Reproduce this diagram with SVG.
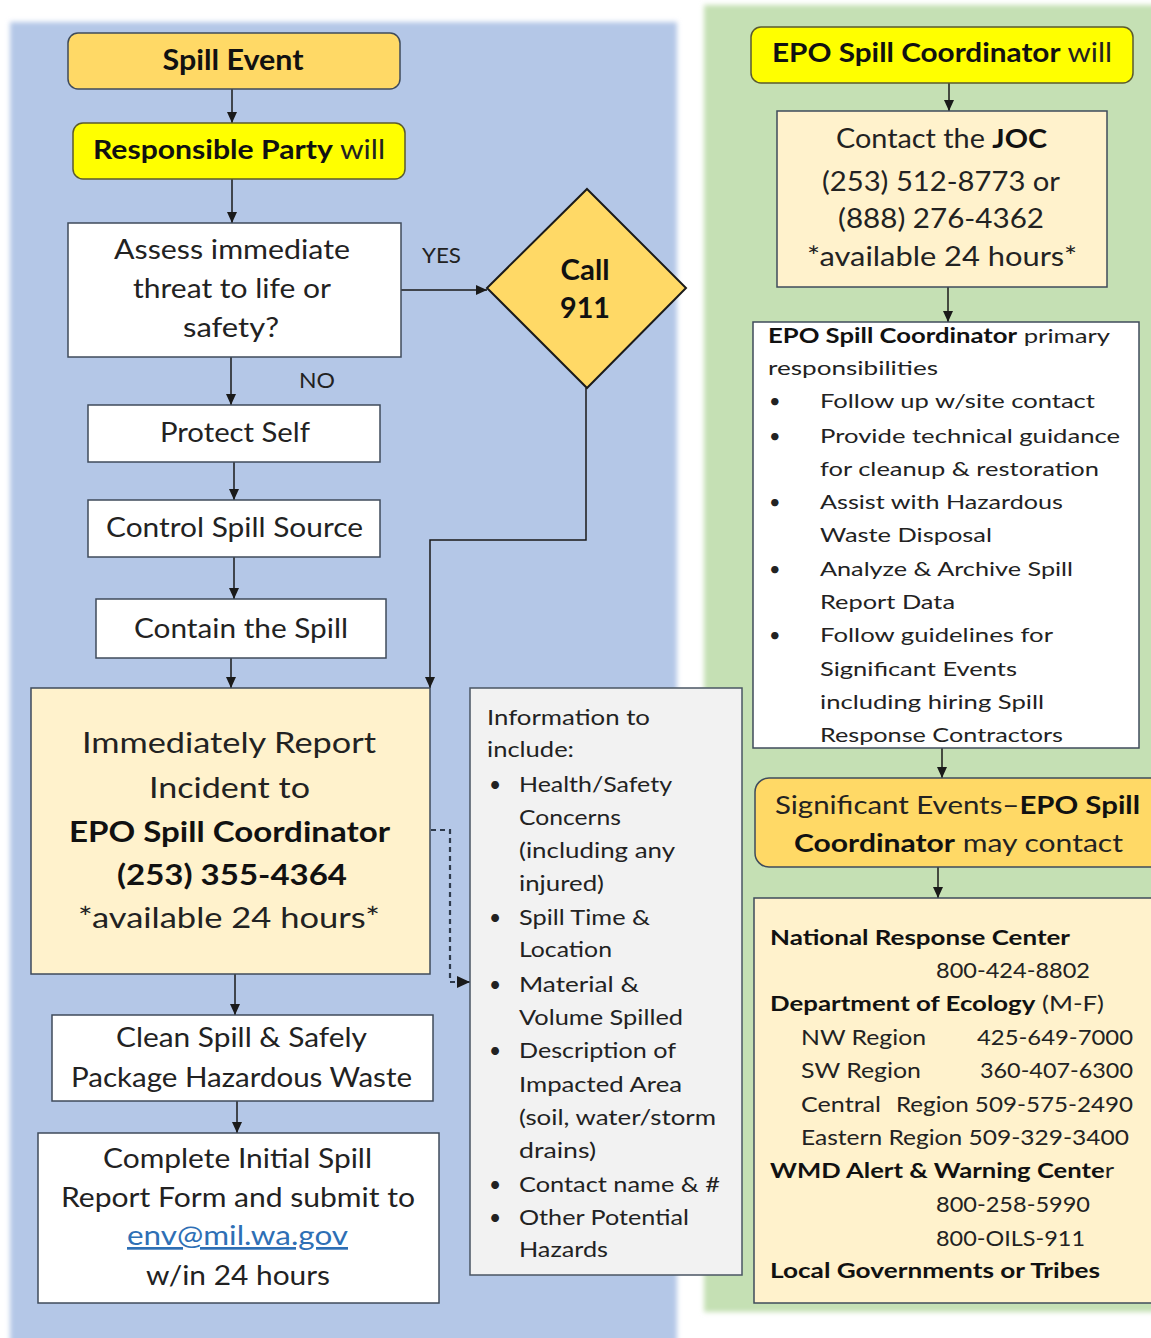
<svg xmlns="http://www.w3.org/2000/svg" width="1151" height="1338" viewBox="0 0 1151 1338">
<defs>
<filter id="soft" x="-5%" y="-5%" width="110%" height="110%"><feGaussianBlur stdDeviation="2.5"/></filter>
<marker id="ah" markerUnits="userSpaceOnUse" markerWidth="11" markerHeight="10" refX="11" refY="5" orient="auto"><path d="M0,0 L11,5 L0,10 z" fill="#1a1a1a"/></marker>
<marker id="ahd" markerUnits="userSpaceOnUse" markerWidth="13" markerHeight="12" refX="13" refY="6" orient="auto"><path d="M0,0 L13,6 L0,12 z" fill="#1a1a1a"/></marker>
</defs>
<style>
text{font-family:Lato,"Liberation Sans",sans-serif;fill:#222;}
.c{text-anchor:middle;}
.b{font-weight:bold;fill:#111;}
.l28{font-size:27px;}
.l29{font-size:29px;}
.l26{font-size:26px;}
.r20{font-size:20px;}
.r21{font-size:21px;}
.box{stroke:#3f4b5b;stroke-width:1.5;}
.conn line,.conn polyline,.conn path{stroke:#1a1a1a;stroke-width:1.5;fill:none;}
</style>

<rect x="10" y="22" width="667" height="1330" fill="#b4c7e7" filter="url(#soft)"/>
<rect x="704" y="5" width="460" height="1307" fill="#c5e0b4" filter="url(#soft)"/>

<g class="conn">
<line x1="232" y1="89" x2="232" y2="123" marker-end="url(#ah)"/>
<line x1="232" y1="179" x2="232" y2="223" marker-end="url(#ah)"/>
<line x1="401" y1="290" x2="487" y2="290" marker-end="url(#ah)"/>
<line x1="231" y1="357" x2="231" y2="405" marker-end="url(#ah)"/>
<line x1="234" y1="462" x2="234" y2="500" marker-end="url(#ah)"/>
<line x1="234" y1="557" x2="234" y2="599" marker-end="url(#ah)"/>
<line x1="231" y1="658" x2="231" y2="688" marker-end="url(#ah)"/>
<polyline points="586,388 586,540 430,540 430,688" marker-end="url(#ah)"/>
<polyline points="431,830 450,830 450,982 470,982" stroke-dasharray="5,4" style="stroke:#2e3a4c;stroke-width:2.2" marker-end="url(#ahd)"/>
<line x1="235" y1="974" x2="235" y2="1015" marker-end="url(#ah)"/>
<line x1="237" y1="1101" x2="237" y2="1133" marker-end="url(#ah)"/>
<line x1="949" y1="83" x2="949" y2="111" marker-end="url(#ah)"/>
<line x1="948" y1="287" x2="948" y2="322" marker-end="url(#ah)"/>
<line x1="942" y1="748" x2="942" y2="778" marker-end="url(#ah)"/>
<line x1="938" y1="867" x2="938" y2="898" marker-end="url(#ah)"/>
</g>

<g id="spill-event">
<rect x="68" y="33" width="332" height="56" rx="10" fill="#ffd966" class="box"/>
<text x="233" y="70" class="c b" font-size="28" textLength="141" lengthAdjust="spacingAndGlyphs">Spill Event</text>
</g>
<g id="responsible-party">
<rect x="73" y="123" width="332" height="56" rx="10" fill="#ffff00" stroke="#5b5b2e" stroke-width="1.5"/>
<text x="239" y="159" class="c l28" textLength="292" lengthAdjust="spacingAndGlyphs"><tspan class="b">Responsible Party</tspan> will</text>
</g>
<g id="assess">
<rect x="68" y="223" width="333" height="134" fill="#ffffff" class="box"/>
<text x="232" y="259" class="c l28" textLength="236" lengthAdjust="spacingAndGlyphs">Assess immediate</text>
<text x="232" y="298" class="c l28" textLength="198" lengthAdjust="spacingAndGlyphs">threat to life or</text>
<text x="231" y="337" class="c l28" textLength="96" lengthAdjust="spacingAndGlyphs">safety?</text>
</g>
<g id="yes-label"><text x="422" y="263" font-size="21" textLength="39" lengthAdjust="spacingAndGlyphs">YES</text></g>
<g id="no-label"><text x="299" y="388" font-size="22" textLength="36" lengthAdjust="spacingAndGlyphs">NO</text></g>
<g id="call-911">
<polygon points="587,189 686,288 587,388 487,288" fill="#ffd966" stroke="#1a1a1a" stroke-width="2"/>
<text x="585" y="280" class="c b" font-size="28" textLength="49" lengthAdjust="spacingAndGlyphs">Call</text>
<text x="585" y="318" class="c b" font-size="28" textLength="50" lengthAdjust="spacingAndGlyphs">911</text>
</g>
<g id="protect-self">
<rect x="88" y="405" width="292" height="57" fill="#ffffff" class="box"/>
<text x="235" y="442" class="c l28" textLength="150" lengthAdjust="spacingAndGlyphs">Protect Self</text>
</g>
<g id="control-source">
<rect x="88" y="500" width="292" height="57" fill="#ffffff" class="box"/>
<text x="234.5" y="537" class="c l28" textLength="257" lengthAdjust="spacingAndGlyphs">Control Spill Source</text>
</g>
<g id="contain">
<rect x="96" y="599" width="290" height="59" fill="#ffffff" class="box"/>
<text x="241" y="638" class="c l28" textLength="214" lengthAdjust="spacingAndGlyphs">Contain the Spill</text>
</g>
<g id="report">
<rect x="31" y="688" width="399" height="286" fill="#fff2cc" class="box"/>
<text x="229" y="753" class="c l29" textLength="294" lengthAdjust="spacingAndGlyphs">Immediately Report</text>
<text x="229.5" y="798" class="c l29" textLength="161" lengthAdjust="spacingAndGlyphs">Incident to</text>
<text x="229.5" y="842" class="c b l29" textLength="321" lengthAdjust="spacingAndGlyphs">EPO Spill Coordinator</text>
<text x="232" y="885" class="c b l29" textLength="230" lengthAdjust="spacingAndGlyphs">(253) 355-4364</text>
<text x="229" y="928" class="c l29" textLength="302" lengthAdjust="spacingAndGlyphs">*available 24 hours*</text>
</g>
<g id="info">
<rect x="470" y="688" width="272" height="587" fill="#f2f2f2" stroke="#4a5563" stroke-width="1.5"/>
<text x="487" y="725" class="r21" textLength="163" lengthAdjust="spacingAndGlyphs">Information to</text>
<text x="487" y="757" class="r21" textLength="87" lengthAdjust="spacingAndGlyphs">include:</text>
<g class="r21">
<text x="489" y="792">•</text><text x="489" y="925">•</text><text x="489" y="992">•</text><text x="489" y="1058">•</text><text x="489" y="1192">•</text><text x="489" y="1225">•</text>
</g>
<text x="519" y="792" class="r21" textLength="153" lengthAdjust="spacingAndGlyphs">Health/Safety</text>
<text x="519" y="825" class="r21" textLength="102" lengthAdjust="spacingAndGlyphs">Concerns</text>
<text x="519" y="858" class="r21" textLength="156" lengthAdjust="spacingAndGlyphs">(including any</text>
<text x="519" y="891" class="r21" textLength="85" lengthAdjust="spacingAndGlyphs">injured)</text>
<text x="519" y="925" class="r21" textLength="131" lengthAdjust="spacingAndGlyphs">Spill Time &amp;</text>
<text x="519" y="957" class="r21" textLength="93" lengthAdjust="spacingAndGlyphs">Location</text>
<text x="519" y="992" class="r21" textLength="120" lengthAdjust="spacingAndGlyphs">Material &amp;</text>
<text x="519" y="1025" class="r21" textLength="164" lengthAdjust="spacingAndGlyphs">Volume Spilled</text>
<text x="519" y="1058" class="r21" textLength="157" lengthAdjust="spacingAndGlyphs">Description of</text>
<text x="519" y="1092" class="r21" textLength="163" lengthAdjust="spacingAndGlyphs">Impacted Area</text>
<text x="519" y="1125" class="r21" textLength="197" lengthAdjust="spacingAndGlyphs">(soil, water/storm</text>
<text x="519" y="1158" class="r21" textLength="77" lengthAdjust="spacingAndGlyphs">drains)</text>
<text x="519" y="1192" class="r21" textLength="201" lengthAdjust="spacingAndGlyphs">Contact name &amp; #</text>
<text x="519" y="1225" class="r21" textLength="170" lengthAdjust="spacingAndGlyphs">Other Potential</text>
<text x="519" y="1257" class="r21" textLength="89" lengthAdjust="spacingAndGlyphs">Hazards</text>
</g>
<g id="clean">
<rect x="52" y="1015" width="381" height="86" fill="#ffffff" class="box"/>
<text x="241.5" y="1047" class="c l28" textLength="251" lengthAdjust="spacingAndGlyphs">Clean Spill &amp; Safely</text>
<text x="241.5" y="1087" class="c l28" textLength="341" lengthAdjust="spacingAndGlyphs">Package Hazardous Waste</text>
</g>
<g id="complete">
<rect x="38" y="1133" width="401" height="170" fill="#ffffff" class="box"/>
<text x="237.5" y="1168" class="c l28" textLength="269" lengthAdjust="spacingAndGlyphs">Complete Initial Spill</text>
<text x="238" y="1207" class="c l28" textLength="354" lengthAdjust="spacingAndGlyphs">Report Form and submit to</text>
<text x="237.5" y="1245" class="c l28" textLength="221" lengthAdjust="spacingAndGlyphs" style="fill:#2e6fb5" text-decoration="underline">env@mil.wa.gov</text>
<text x="238" y="1285" class="c l28" textLength="184" lengthAdjust="spacingAndGlyphs">w/in 24 hours</text>
</g>

<g id="epo-will">
<rect x="751" y="27" width="382" height="56" rx="10" fill="#ffff00" stroke="#5b5b2e" stroke-width="1.5"/>
<text x="942" y="62" class="c" font-size="27" textLength="340" lengthAdjust="spacingAndGlyphs"><tspan class="b">EPO Spill Coordinator</tspan> will</text>
</g>
<g id="joc">
<rect x="777" y="111" width="330" height="176" fill="#fff2cc" class="box"/>
<text x="941.5" y="148" class="c l26" textLength="211" lengthAdjust="spacingAndGlyphs">Contact the <tspan class="b">JOC</tspan></text>
<text x="941" y="191" class="c l26" textLength="238" lengthAdjust="spacingAndGlyphs">(253) 512-8773 or</text>
<text x="941" y="228" class="c l26" textLength="206" lengthAdjust="spacingAndGlyphs">(888) 276-4362</text>
<text x="942" y="266" class="c l26" textLength="270" lengthAdjust="spacingAndGlyphs">*available 24 hours*</text>
</g>
<g id="responsibilities">
<rect x="753" y="322" width="386" height="426" fill="#ffffff" class="box"/>
<text x="768" y="343" class="r20" textLength="342" lengthAdjust="spacingAndGlyphs"><tspan class="b">EPO Spill Coordinator</tspan> primary</text>
<text x="768" y="375" class="r20" textLength="170" lengthAdjust="spacingAndGlyphs">responsibilities</text>
<g class="r20">
<text x="769" y="408">•</text><text x="769" y="443">•</text><text x="769" y="509">•</text><text x="769" y="576">•</text><text x="769" y="642">•</text>
</g>
<text x="820" y="408" class="r20" textLength="275" lengthAdjust="spacingAndGlyphs">Follow up w/site contact</text>
<text x="820" y="443" class="r20" textLength="300" lengthAdjust="spacingAndGlyphs">Provide technical guidance</text>
<text x="820" y="476" class="r20" textLength="279" lengthAdjust="spacingAndGlyphs">for cleanup &amp; restoration</text>
<text x="820" y="509" class="r20" textLength="243" lengthAdjust="spacingAndGlyphs">Assist with Hazardous</text>
<text x="820" y="542" class="r20" textLength="172" lengthAdjust="spacingAndGlyphs">Waste Disposal</text>
<text x="820" y="576" class="r20" textLength="253" lengthAdjust="spacingAndGlyphs">Analyze &amp; Archive Spill</text>
<text x="820" y="609" class="r20" textLength="135" lengthAdjust="spacingAndGlyphs">Report Data</text>
<text x="820" y="642" class="r20" textLength="233" lengthAdjust="spacingAndGlyphs">Follow guidelines for</text>
<text x="820" y="676" class="r20" textLength="197" lengthAdjust="spacingAndGlyphs">Significant Events</text>
<text x="820" y="709" class="r20" textLength="224" lengthAdjust="spacingAndGlyphs">including hiring Spill</text>
<text x="820" y="742" class="r20" textLength="243" lengthAdjust="spacingAndGlyphs">Response Contractors</text>
</g>
<g id="significant">
<rect x="755" y="778" width="420" height="89" rx="14" fill="#ffd966" class="box"/>
<text x="957.5" y="814" class="c" font-size="25" textLength="365" lengthAdjust="spacingAndGlyphs">Significant Events–<tspan class="b">EPO Spill</tspan></text>
<text x="958.5" y="852" class="c" font-size="25" textLength="329" lengthAdjust="spacingAndGlyphs"><tspan class="b">Coordinator</tspan> may contact</text>
</g>
<g id="contacts">
<rect x="754" y="898" width="420" height="405" fill="#fff2cc" class="box"/>
<text x="770" y="945" class="r21 b" textLength="300" lengthAdjust="spacingAndGlyphs">National Response Center</text>
<text x="936" y="978" class="r21" textLength="154" lengthAdjust="spacingAndGlyphs">800-424-8802</text>
<text x="770" y="1011" class="r21" textLength="334" lengthAdjust="spacingAndGlyphs"><tspan class="b">Department of Ecology</tspan> (M-F)</text>
<text x="801" y="1045" class="r21" textLength="125" lengthAdjust="spacingAndGlyphs">NW Region</text>
<text x="977" y="1045" class="r21" textLength="156" lengthAdjust="spacingAndGlyphs">425-649-7000</text>
<text x="801" y="1078" class="r21" textLength="120" lengthAdjust="spacingAndGlyphs">SW Region</text>
<text x="980" y="1078" class="r21" textLength="153" lengthAdjust="spacingAndGlyphs">360-407-6300</text>
<text x="801" y="1112" class="r21" textLength="80" lengthAdjust="spacingAndGlyphs">Central</text>
<text x="896" y="1112" class="r21" textLength="237" lengthAdjust="spacingAndGlyphs">Region 509-575-2490</text>
<text x="801" y="1145" class="r21" textLength="328" lengthAdjust="spacingAndGlyphs">Eastern Region 509-329-3400</text>
<text x="770" y="1178" class="r21" textLength="344" lengthAdjust="spacingAndGlyphs"><tspan class="b">WMD Alert &amp; Warning Cente</tspan>r</text>
<text x="936" y="1212" class="r21" textLength="154" lengthAdjust="spacingAndGlyphs">800-258-5990</text>
<text x="936" y="1246" class="r21" textLength="149" lengthAdjust="spacingAndGlyphs">800-OILS-911</text>
<text x="770" y="1278" class="r21 b" textLength="330" lengthAdjust="spacingAndGlyphs">Local Governments or Tribes</text>
</g>
</svg>
